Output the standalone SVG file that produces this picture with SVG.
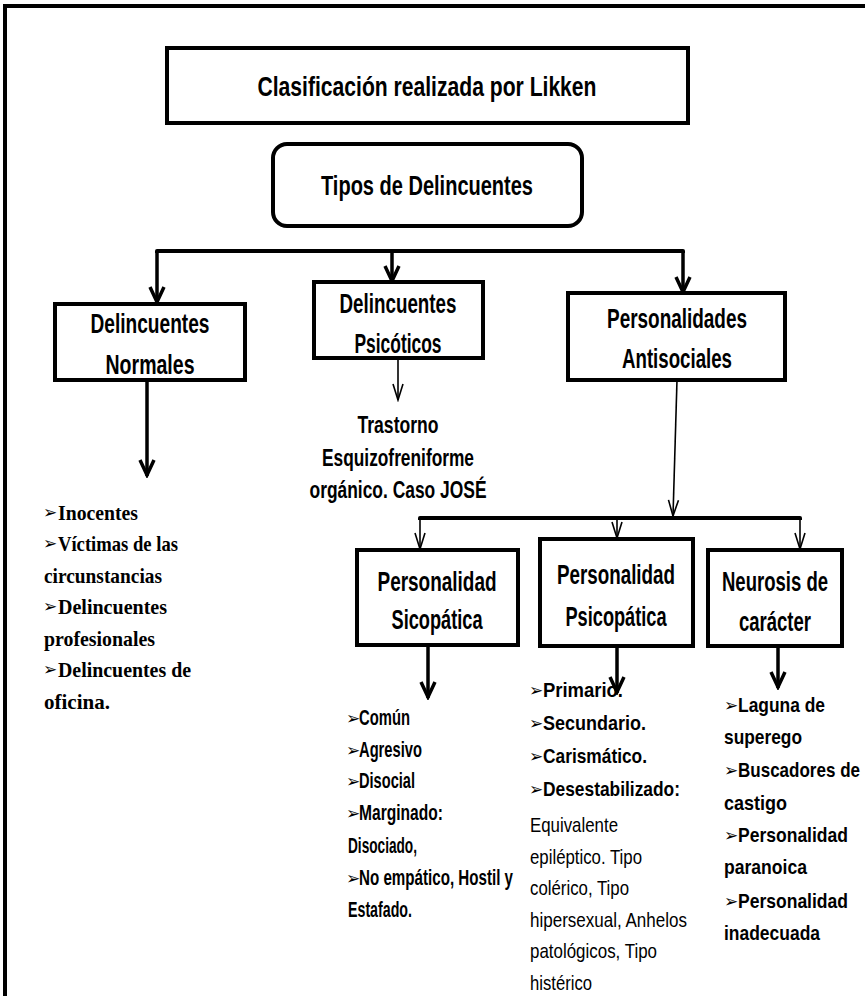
<svg xmlns="http://www.w3.org/2000/svg" width="865" height="996" viewBox="0 0 865 996">
<defs>
<style>
.box{fill:#fff;stroke:#000;stroke-width:4}
.lbl{font-family:"Liberation Sans",Arial,sans-serif;font-weight:bold;font-size:28px;fill:#000;text-anchor:middle}
.bus{fill:none;stroke:#000;stroke-width:4;stroke-linejoin:round}
.thick{fill:none;stroke:#000;stroke-width:3.5;marker-end:url(#ah)}
.thin{fill:none;stroke:#000;stroke-width:1.6;marker-end:url(#ah2)}
.sb{font-family:"Liberation Sans",Arial,sans-serif;font-weight:bold;font-size:22px;fill:#000}
.ar{font-family:"Liberation Sans",Arial,sans-serif;font-size:21px;fill:#000}
.ab{font-family:"Liberation Sans",Arial,sans-serif;font-weight:bold;font-size:21px;fill:#000}
.tr{font-family:"Liberation Sans",Arial,sans-serif;font-weight:bold;font-size:24px;fill:#000;text-anchor:middle}
.serif{font-family:"Liberation Serif","Times New Roman",serif;font-weight:bold;font-size:22px;fill:#000}
.bul{font-family:"DejaVu Sans",sans-serif;font-size:17px;fill:#000}
</style>
<marker id="ah" markerUnits="userSpaceOnUse" viewBox="-20 -10 22 20" refX="0" refY="0" markerWidth="22" markerHeight="20" orient="auto"><path d="M-16,-7 L-1,0 L-16,7" fill="none" stroke="#000" stroke-width="3.5"/></marker>
<marker id="ah2" markerUnits="userSpaceOnUse" viewBox="-20 -10 22 20" refX="0" refY="0" markerWidth="22" markerHeight="20" orient="auto"><path d="M-16,-5 L0,0 L-16,5" fill="none" stroke="#000" stroke-width="1.6"/></marker>
</defs>
<rect width="865" height="996" fill="#fff"/>
<path d="M5,996 V6 H865" fill="none" stroke="#000" stroke-width="4"/>

<g id="connectors">
<path class="bus" d="M157,253 V251 H683 V253"/>
<line class="thick" x1="157" y1="251" x2="157" y2="303"/>
<line class="thick" x1="392" y1="251" x2="392" y2="282"/>
<line class="thick" x1="683" y1="251" x2="683" y2="293"/>
<line class="thick" x1="147" y1="380" x2="147" y2="476"/>
<line class="thin" x1="398" y1="358" x2="398" y2="400"/>
<line class="thin" x1="677" y1="380" x2="673" y2="516"/>
<path class="bus" d="M420,520 V518 H800 V520"/>
<line class="thin" x1="420" y1="518" x2="420" y2="549"/>
<line class="thin" x1="617" y1="518" x2="617" y2="538"/>
<line class="thin" x1="800" y1="518" x2="800" y2="549"/>
<line class="thick" x1="428" y1="646" x2="428" y2="698"/>
<line class="thick" x1="617" y1="646" x2="617" y2="693"/>
<line class="thick" x1="778" y1="646" x2="778" y2="688"/>
</g>

<g id="title">
<rect class="box" x="167" y="48" width="521" height="75"/>
<text class="lbl" x="427" y="96" textLength="339" lengthAdjust="spacingAndGlyphs">Clasificación realizada por Likken</text>
</g>

<g id="tipos">
<rect class="box" x="273" y="144" width="309" height="82" rx="14"/>
<text class="lbl" x="427" y="195" textLength="212" lengthAdjust="spacingAndGlyphs">Tipos de Delincuentes</text>
</g>

<g id="normales">
<rect class="box" x="55" y="304" width="190" height="76"/>
<text class="lbl" x="150" y="333" textLength="119" lengthAdjust="spacingAndGlyphs">Delincuentes</text>
<text class="lbl" x="150" y="374" textLength="89" lengthAdjust="spacingAndGlyphs">Normales</text>
</g>

<g id="psicoticos">
<rect class="box" x="314" y="282" width="169" height="76"/>
<text class="lbl" x="398" y="313" textLength="117" lengthAdjust="spacingAndGlyphs">Delincuentes</text>
<text class="lbl" x="398" y="353" textLength="87" lengthAdjust="spacingAndGlyphs">Psicóticos</text>
</g>

<g id="antisociales">
<rect class="box" x="568" y="293" width="217" height="87"/>
<text class="lbl" x="677" y="328" textLength="140" lengthAdjust="spacingAndGlyphs">Personalidades</text>
<text class="lbl" x="677" y="368" textLength="110" lengthAdjust="spacingAndGlyphs">Antisociales</text>
</g>

<g id="trastorno">
<text class="tr" x="398" y="433" textLength="81" lengthAdjust="spacingAndGlyphs">Trastorno</text>
<text class="tr" x="398" y="466" textLength="152" lengthAdjust="spacingAndGlyphs">Esquizofreniforme</text>
<text class="tr" x="398" y="498" textLength="177" lengthAdjust="spacingAndGlyphs">orgánico. Caso JOSÉ</text>
</g>

<g id="sicopatica">
<rect class="box" x="357" y="550" width="161" height="95"/>
<text class="lbl" x="437" y="591" textLength="119" lengthAdjust="spacingAndGlyphs">Personalidad</text>
<text class="lbl" x="437" y="629" textLength="91" lengthAdjust="spacingAndGlyphs">Sicopática</text>
</g>

<g id="psicopatica">
<rect class="box" x="540" y="539" width="153" height="107"/>
<text class="lbl" x="616" y="584" textLength="118" lengthAdjust="spacingAndGlyphs">Personalidad</text>
<text class="lbl" x="616" y="626" textLength="101" lengthAdjust="spacingAndGlyphs">Psicopática</text>
</g>

<g id="neurosis">
<rect class="box" x="708" y="550" width="134" height="96"/>
<text class="lbl" x="775" y="591" textLength="106" lengthAdjust="spacingAndGlyphs">Neurosis de</text>
<text class="lbl" x="775" y="631" textLength="72" lengthAdjust="spacingAndGlyphs">carácter</text>
</g>

<g id="lista-normales">
<text class="bul" x="43" y="518">➢</text>
<text class="serif" x="58" y="520" textLength="80" lengthAdjust="spacingAndGlyphs">Inocentes</text>
<text class="bul" x="43" y="549">➢</text>
<text class="serif" x="58" y="551" textLength="120" lengthAdjust="spacingAndGlyphs">Víctimas de las</text>
<text class="serif" x="44" y="583" textLength="118" lengthAdjust="spacingAndGlyphs">circunstancias</text>
<text class="bul" x="43" y="612">➢</text>
<text class="serif" x="58" y="614" textLength="109" lengthAdjust="spacingAndGlyphs">Delincuentes</text>
<text class="serif" x="44" y="646" textLength="111" lengthAdjust="spacingAndGlyphs">profesionales</text>
<text class="bul" x="43" y="675">➢</text>
<text class="serif" x="58" y="677" textLength="133" lengthAdjust="spacingAndGlyphs">Delincuentes de</text>
<text class="serif" x="44" y="709" textLength="66" lengthAdjust="spacingAndGlyphs">oficina.</text>
</g>

<g id="lista-sicopatica">
<text class="bul" x="346" y="724">➢</text>
<text class="sb" x="359" y="725" textLength="51" lengthAdjust="spacingAndGlyphs">Común</text>
<text class="bul" x="346" y="756">➢</text>
<text class="sb" x="359" y="757" textLength="63" lengthAdjust="spacingAndGlyphs">Agresivo</text>
<text class="bul" x="346" y="787">➢</text>
<text class="sb" x="359" y="788" textLength="56" lengthAdjust="spacingAndGlyphs">Disocial</text>
<text class="bul" x="346" y="819">➢</text>
<text class="sb" x="359" y="820" textLength="84" lengthAdjust="spacingAndGlyphs">Marginado:</text>
<text class="sb" x="348" y="853" textLength="69" lengthAdjust="spacingAndGlyphs">Disociado,</text>
<text class="bul" x="346" y="884">➢</text>
<text class="sb" x="359" y="885" textLength="154" lengthAdjust="spacingAndGlyphs">No empático, Hostil y</text>
<text class="sb" x="348" y="917" textLength="64" lengthAdjust="spacingAndGlyphs">Estafado.</text>
</g>

<g id="lista-psicopatica">
<text class="bul" x="529" y="696">➢</text>
<text class="ab" x="543" y="697" textLength="80" lengthAdjust="spacingAndGlyphs">Primario.</text>
<text class="bul" x="529" y="729">➢</text>
<text class="ab" x="543" y="730" textLength="103" lengthAdjust="spacingAndGlyphs">Secundario.</text>
<text class="bul" x="529" y="762">➢</text>
<text class="ab" x="543" y="763" textLength="104" lengthAdjust="spacingAndGlyphs">Carismático.</text>
<text class="bul" x="529" y="795">➢</text>
<text class="ab" x="543" y="796" textLength="137" lengthAdjust="spacingAndGlyphs">Desestabilizado:</text>
<text class="ar" x="530" y="832" textLength="88" lengthAdjust="spacingAndGlyphs">Equivalente</text>
<text class="ar" x="530" y="864" textLength="112" lengthAdjust="spacingAndGlyphs">epiléptico. Tipo</text>
<text class="ar" x="530" y="895" textLength="99" lengthAdjust="spacingAndGlyphs">colérico, Tipo</text>
<text class="ar" x="530" y="927" textLength="157" lengthAdjust="spacingAndGlyphs">hipersexual, Anhelos</text>
<text class="ar" x="530" y="958" textLength="127" lengthAdjust="spacingAndGlyphs">patológicos, Tipo</text>
<text class="ar" x="530" y="990" textLength="62" lengthAdjust="spacingAndGlyphs">histérico</text>
</g>

<g id="lista-neurosis">
<text class="bul" x="724" y="711">➢</text>
<text class="ab" x="738" y="712" textLength="87" lengthAdjust="spacingAndGlyphs">Laguna de</text>
<text class="ab" x="724" y="744" textLength="78" lengthAdjust="spacingAndGlyphs">superego</text>
<text class="bul" x="724" y="776">➢</text>
<text class="ab" x="738" y="777" textLength="122" lengthAdjust="spacingAndGlyphs">Buscadores de</text>
<text class="ab" x="724" y="810" textLength="63" lengthAdjust="spacingAndGlyphs">castigo</text>
<text class="bul" x="724" y="841">➢</text>
<text class="ab" x="738" y="842" textLength="110" lengthAdjust="spacingAndGlyphs">Personalidad</text>
<text class="ab" x="724" y="874" textLength="83" lengthAdjust="spacingAndGlyphs">paranoica</text>
<text class="bul" x="724" y="907">➢</text>
<text class="ab" x="738" y="908" textLength="110" lengthAdjust="spacingAndGlyphs">Personalidad</text>
<text class="ab" x="724" y="940" textLength="96" lengthAdjust="spacingAndGlyphs">inadecuada</text>
</g>
</svg>
